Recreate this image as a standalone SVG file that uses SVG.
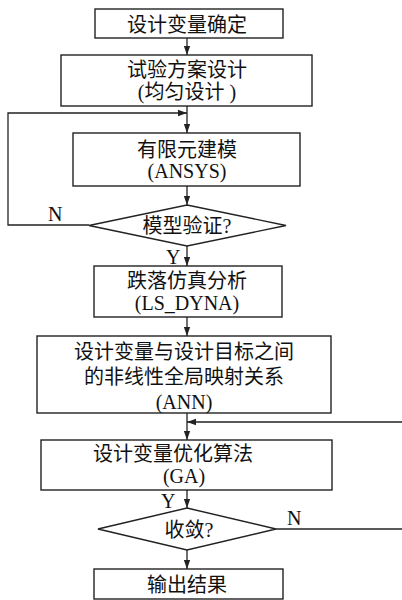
<svg xmlns="http://www.w3.org/2000/svg" width="402" height="600" viewBox="0 0 402 600">
<style>
.box{fill:#fff;stroke:#222;stroke-width:1.4}
.ln{fill:none;stroke:#222;stroke-width:1.3}
.t{font-family:"Liberation Serif","Noto Sans CJK SC",serif;font-size:20px;fill:#111;text-anchor:middle}
.l{font-family:"Liberation Serif",serif;font-size:20px;fill:#111}
</style>
<defs>
<marker id="ah" viewBox="0 0 10 10" refX="10" refY="5" markerWidth="9" markerHeight="9" markerUnits="userSpaceOnUse" orient="auto">
<path d="M0,1.5 L10,5 L0,8.5 Z" fill="#222"/>
</marker>
</defs>
<rect width="402" height="600" fill="#fff"/>
<g id="connectors">
<line class="ln" x1="187" y1="38" x2="187" y2="55" marker-end="url(#ah)"/>
<line class="ln" x1="187" y1="106" x2="187" y2="133" marker-end="url(#ah)"/>
<polyline class="ln" points="89,225 8,225 8,113 187,113" marker-end="url(#ah)"/>
<line class="ln" x1="187" y1="186" x2="187" y2="205" marker-end="url(#ah)"/>
<line class="ln" x1="187" y1="246" x2="187" y2="266" marker-end="url(#ah)"/>
<line class="ln" x1="187" y1="317" x2="187" y2="336" marker-end="url(#ah)"/>
<line class="ln" x1="187" y1="413" x2="187" y2="440" marker-end="url(#ah)"/>
<line class="ln" x1="402" y1="422" x2="187" y2="422" marker-end="url(#ah)"/>
<line class="ln" x1="187" y1="490" x2="187" y2="508" marker-end="url(#ah)"/>
<line class="ln" x1="276" y1="529" x2="402" y2="529"/>
<line class="ln" x1="187" y1="550" x2="187" y2="569" marker-end="url(#ah)"/>
<text class="l" x="48" y="221">N</text>
<text class="l" x="166" y="264">Y</text>
<text class="l" x="161" y="508">Y</text>
<text class="l" x="287" y="525">N</text>
</g>
<g id="n1">
<rect class="box" x="95" y="9" width="188" height="29"/>
<text class="t" x="187" y="32">设计变量确定</text>
</g>
<g id="n2">
<rect class="box" x="61" y="55" width="251" height="51"/>
<text class="t" x="187" y="77">试验方案设计</text>
<text class="t" x="187" y="99">(均匀设计 )</text>
</g>
<g id="n3">
<rect class="box" x="73" y="133" width="227" height="53"/>
<text class="t" x="187" y="157">有限元建模</text>
<text class="t" x="187" y="178">(ANSYS)</text>
</g>
<g id="d1">
<polygon class="box" points="187,205 286,225.5 187,246 89,225.5"/>
<text class="t" x="187" y="233">模型验证?</text>
</g>
<g id="n4">
<rect class="box" x="94" y="266" width="188" height="51"/>
<text class="t" x="187" y="288">跌落仿真分析</text>
<text class="t" x="187" y="310">(LS_DYNA)</text>
</g>
<g id="n5">
<rect class="box" x="37" y="336" width="294" height="77"/>
<text class="t" x="184" y="359">设计变量与设计目标之间</text>
<text class="t" x="184" y="384">的非线性全局映射关系</text>
<text class="t" x="184" y="409">(ANN)</text>
</g>
<g id="n6">
<rect class="box" x="41" y="440" width="291" height="50"/>
<text class="t" x="173" y="461">设计变量优化算法</text>
<text class="t" x="184" y="483">(GA)</text>
</g>
<g id="d2">
<polygon class="box" points="187,508 276,529 187,550 98,529"/>
<text class="t" x="189" y="537">收敛?</text>
</g>
<g id="n7">
<rect class="box" x="94" y="569" width="189" height="30"/>
<text class="t" x="187" y="592">输出结果</text>
</g>
</svg>
